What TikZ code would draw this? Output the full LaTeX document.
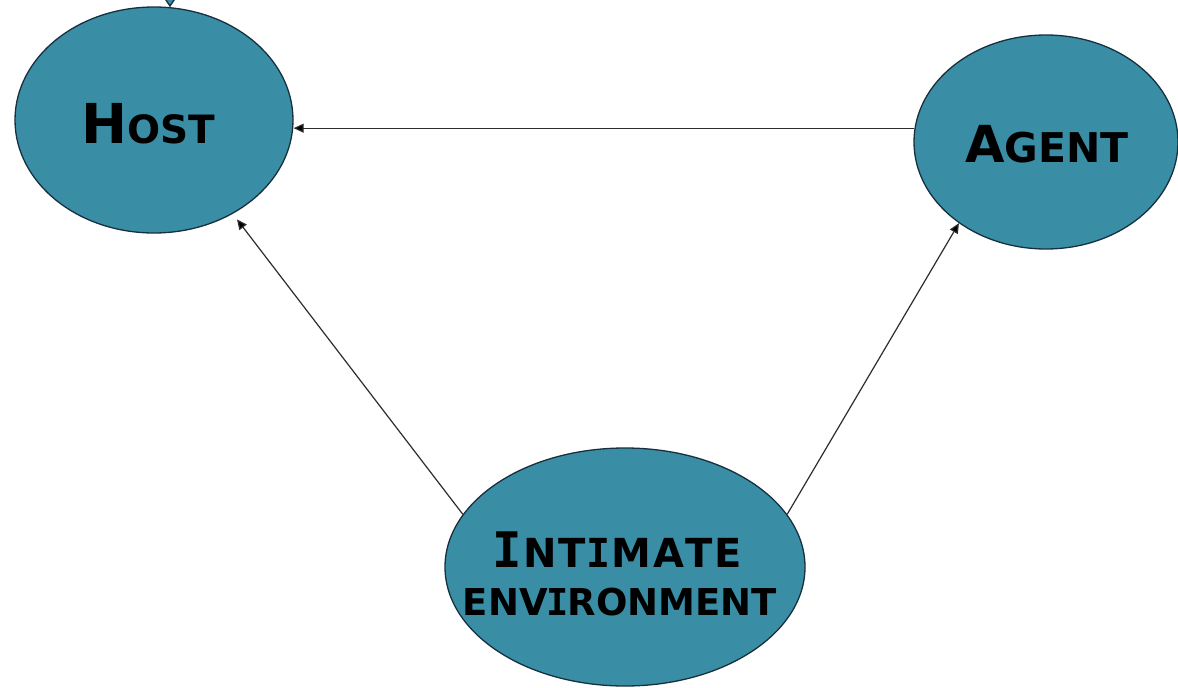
\documentclass[tikz,border=0pt]{standalone}
\usepackage{fontspec}
\setmainfont{DejaVu Sans}
\newfontfamily\slabfont{DejaVu Sans Mono}
\usetikzlibrary{arrows.meta,shapes.geometric}
\definecolor{tealfill}{RGB}{57,142,166}
\definecolor{rimcol}{RGB}{22,48,62}
\definecolor{linecol}{RGB}{45,45,45}
% text at a given point size
\newcommand{\sz}[2]{{\fontsize{#1}{#1}\selectfont #2}}
% a slab-serif capital I
\newcommand{\slabI}[1]{{\slabfont\bfseries\fontsize{#1}{#1}\selectfont I}}
\tikzset{
  blob/.style={ellipse, draw=rimcol, line width=1.3pt, fill=tealfill, inner sep=0pt},
  lbl/.style={anchor=base, inner sep=0pt, font=\bfseries},
  arr/.style={draw=linecol, line width=1.2pt, -{Triangle[length=10pt,width=9pt,fill=black]}}
}
\begin{document}
\begin{tikzpicture}[x=1pt,y=-1pt]
\useasboundingbox (0,0) rectangle (1178,688);
\clip (0,0) rectangle (1178,688);
\fill[white] (0,0) rectangle (1178,688);

% the three factors
\node[blob, minimum width=278pt, minimum height=226pt] (host) at (154,120) {};
\node[blob, minimum width=264pt, minimum height=214pt] (agent) at (1046,142) {};
\node[blob, minimum width=360pt, minimum height=238pt] (env) at (625,567) {};

\node[lbl] (hostlbl) at (148,143) {\sz{55}{H}\sz{39}{OST}};
\node[lbl] (agentlbl) at (1047,162) {\sz{51}{A}\sz{41}{GENT}};
\node[lbl] (envlbl1) at (617,567)
  {\slabI{49}\sz{40}{\kern1.5pt N\kern1.5pt T\kern1pt\slabI{40}\kern1pt M\kern1.5pt A\kern1.5pt T\kern1.5pt E}};
\node[lbl] (envlbl2) at (620,615)
  {\sz{37}{ENV\kern-1pt\slabI{37}\kern-1pt RONMENT}};

% small marker above the host
\filldraw[fill=tealfill, draw=rimcol, line width=1.3pt]
  (159,-10) -- (170,6) -- (181,-10) -- cycle;

% connectors
\draw[arr] (agent.174) -- (agent.174 -| host.east);
\draw[arr, shorten >=7pt] (env.162.7) -- (host.-50.8);
\draw[arr] (env.18.2) -- (agent.-137.6);
\end{tikzpicture}
\end{document}
